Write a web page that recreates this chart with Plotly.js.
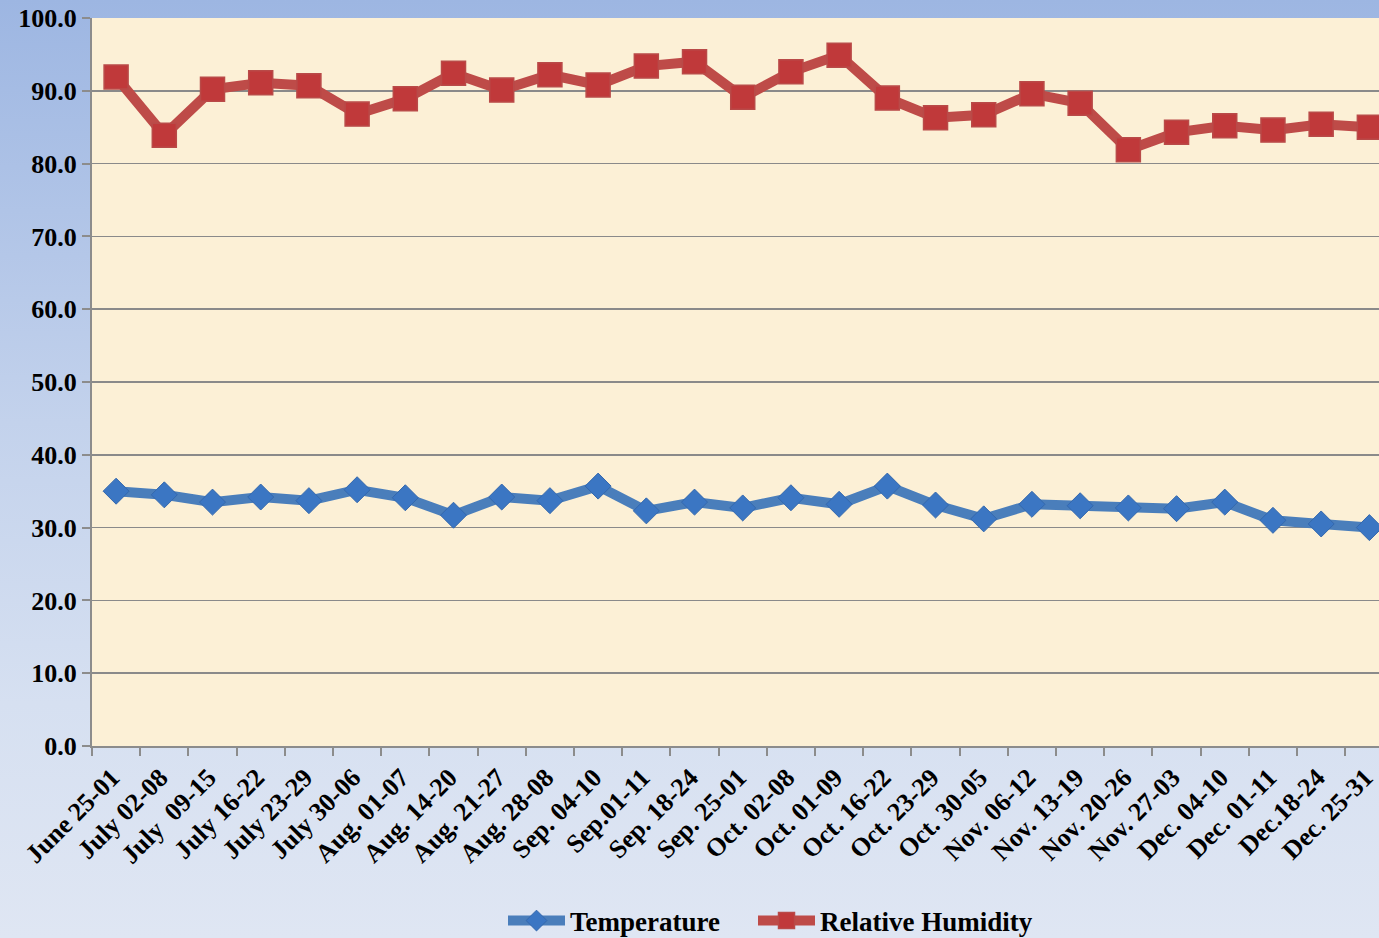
<!DOCTYPE html>
<html><head><meta charset="utf-8">
<script src="https://cdn.plot.ly/plotly-3.0.1.min.js"></script>
<style>
html,body{margin:0;padding:0;width:1379px;height:938px;overflow:hidden;
background:linear-gradient(to bottom,#9db6e2 0%,#c3d2ec 45%,#d6e0f1 75%,#dfe6f3 100%);}
#chart{width:1379px;height:938px;}
</style></head><body><div id="chart"></div>
<script>
const categories = ["June 25-01","July 02-08","July \u00a009-15","July 16-22","July 23-29","July 30-06","Aug. 01-07","Aug. 14-20","Aug. 21-27","Aug. 28-08","Sep. 04-10","Sep.01-11","Sep. 18-24","Sep. 25-01","Oct. 02-08","Oct. 01-09","Oct. 16-22","Oct. 23-29","Oct. 30-05","Nov. 06-12","Nov. 13-19","Nov. 20-26","Nov. 27-03","Dec. 04-10","Dec. 01-11","Dec.18-24","Dec. 25-31"];
const temperature = [35.0,34.5,33.5,34.2,33.7,35.2,34.1,31.7,34.2,33.7,35.7,32.3,33.5,32.7,34.1,33.2,35.7,33.1,31.2,33.2,33.0,32.7,32.6,33.5,31.0,30.5,30.0];
const humidity = [91.9,83.9,90.2,91.1,90.7,86.8,88.9,92.4,90.1,92.2,90.8,93.4,94.0,89.1,92.6,94.9,89.0,86.3,86.7,89.6,88.3,81.9,84.3,85.2,84.6,85.4,85.0];
const yTicks = [0,10,20,30,40,50,60,70,80,90,100];

const traces = [
 {x: categories, y: temperature, name: "Temperature", type: "scatter", mode: "lines+markers", legend: "legend",
  line: {color: "#4a7ebb", width: 10},
  marker: {symbol: "diamond", size: 20, color: "#3b76c3", line: {color: "#3468ad", width: 1}}},
 {x: categories, y: humidity, name: "Relative Humidity", type: "scatter", mode: "lines+markers", legend: "legend2",
  line: {color: "#be4b48", width: 10},
  marker: {symbol: "square", size: 24, color: "#c0393a", line: {color: "#b94a48", width: 1.5}}}
];

const legendFont = {size: 27, family: "Liberation Serif, serif", weight: "bold"};
const layout = {
 width: 1379, height: 938,
 paper_bgcolor: "rgba(0,0,0,0)", plot_bgcolor: "#fcf0d6",
 margin: {l: 92, r: 0, t: 18, b: 192, autoexpand: false},
 font: {family: "Liberation Serif, Times New Roman, serif", color: "#000"},
 showlegend: true,
 legend: {orientation: "h", xref: "container", yref: "container", x: 503/1379, xanchor: "left", y: 17/938, yanchor: "middle",
  itemwidth: 57, font: legendFont, bgcolor: "rgba(0,0,0,0)"},
 legend2: {orientation: "h", xref: "container", yref: "container", x: 753/1379, xanchor: "left", y: 17/938, yanchor: "middle",
  itemwidth: 57, font: legendFont, bgcolor: "rgba(0,0,0,0)"},
 xaxis: {type: "category", range: [-0.5, 26.2],
  tickangle: -45, tickfont: {size: 26, family: "Liberation Serif, serif", weight: "bold"},
  ticklabeloverflow: "allow", ticklabelstandoff: 4, ticklabelshift: -4,
  showgrid: false, zeroline: false, showline: true, linecolor: "#8c8c8c", linewidth: 2,
  ticks: "outside", ticklen: 8, tickcolor: "#8c8c8c", tickwidth: 2, tickson: "boundaries", fixedrange: true},
 yaxis: {range: [0, 100], tickmode: "array", tickvals: yTicks, ticktext: yTicks.map(v => v.toFixed(1)),
  tickfont: {size: 26, family: "Liberation Serif, serif", weight: "bold"},
  showgrid: true, gridcolor: "#8a8a8a", gridwidth: 1.5, zeroline: false,
  showline: true, linecolor: "#8c8c8c", linewidth: 2,
  ticks: "outside", ticklen: 8, tickcolor: "#8c8c8c", tickwidth: 2, fixedrange: true}
};
Plotly.newPlot("chart", traces, layout, {displayModeBar: false, staticPlot: true});
</script></body></html>
